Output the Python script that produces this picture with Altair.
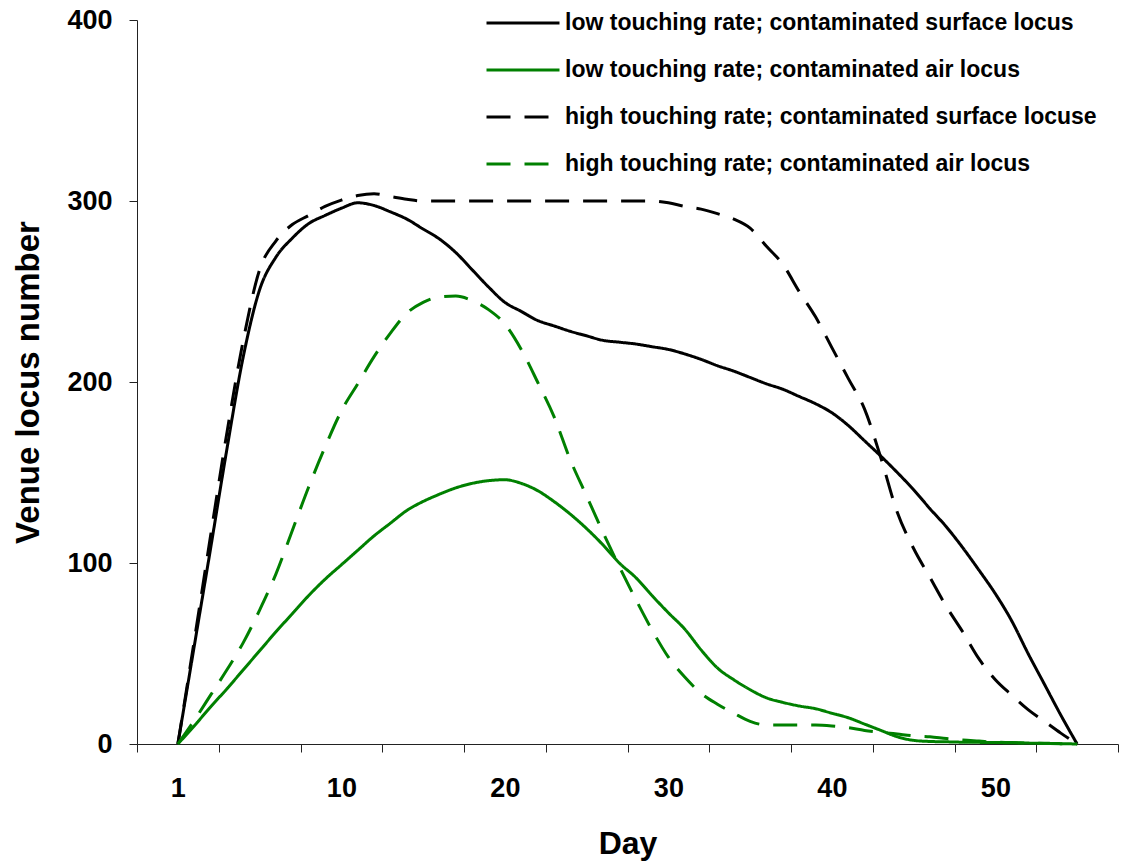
import altair as alt
import pandas as pd

# Sampling steps along the horizontal axis (0 is the first day, labelled "1")
DAY_INDEX = list(range(56))

LOW_SURFACE = [0, 54, 108, 163, 214, 251, 269, 279.5, 287.5, 292,
               296, 299, 297.5, 294, 290, 284.5, 279, 271.5, 262, 252.5,
               244, 239, 234, 231, 228, 225.5, 223, 222, 221, 219.5,
               218, 215.5, 212.5, 209, 206, 202.5, 199, 196, 192, 188,
               183, 176, 167.5, 159, 150, 140.5, 130, 120, 108.5, 96,
               83, 68, 50, 33, 16, 0]

LOW_AIR = [0, 10, 20.5, 30.5, 41, 51.5, 62, 72, 82, 91,
           99, 107, 115, 122, 129, 134, 138, 141.5, 144, 145.5,
           146, 144, 140, 134, 127, 119, 110, 100, 92, 82,
           72.5, 63.5, 52, 42, 35.5, 30, 25.5, 23, 21, 19.5,
           17, 14.5, 11, 7.5, 4, 2, 1.4, 1.2, 1, 0.9,
           0.8, 0.7, 0.5, 0.4, 0.2, 0]

HIGH_SURFACE = [0, 57, 115, 172, 223, 262, 278, 287, 292, 297,
                300.5, 303, 304, 302.5, 301, 300, 300, 300, 300, 300,
                300, 300, 300, 300, 300, 300, 300, 300, 300, 300,
                299, 297, 295.5, 293, 290, 285, 275, 265, 250, 236,
                219, 202, 185, 158, 128, 108, 92, 76, 62, 47,
                35.5, 27, 19, 12.5, 6, 0]

HIGH_AIR = [0, 13, 27, 41, 56, 74, 94, 118, 142, 164,
            184, 199, 214, 227, 238, 244, 247, 247.5, 245, 240,
            232, 218, 200, 181, 157, 137, 117, 98, 80, 63,
            48, 37, 28, 22, 17, 12.5, 10.5, 10.5, 10.5, 10.5,
            10, 9, 7.5, 6.5, 5.5, 4.5, 4, 3, 2.2, 1.6,
            1, 0.8, 0.5, 0.3, 0.1, 0]

SERIES = [
    "low touching rate; contaminated surface locus",
    "low touching rate; contaminated air locus",
    "high touching rate; contaminated surface locuse",
    "high touching rate; contaminated air locus",
]
COLORS = ["#000000", "#008000", "#000000", "#008000"]
DASHES = [[1, 0], [1, 0], [24, 14], [24, 14]]

Y_TICKS = [0, 100, 200, 300, 400]
X_LABELS = {0: "1", 10: "10", 20: "20", 30: "30", 40: "40", 50: "50"}
X_TICKS = [-2.5, 2.5, 7.5, 12.5, 17.5, 22.5, 27.5, 32.5, 37.5, 42.5, 47.5, 52.5, 57.5]

rows = []
for name, vals in zip(SERIES, [LOW_SURFACE, LOW_AIR, HIGH_SURFACE, HIGH_AIR]):
    for d, v in zip(DAY_INDEX, vals):
        rows.append({"day": d, "count": v, "series": name})
df = pd.DataFrame(rows)

axis_values = sorted(X_TICKS + list(X_LABELS))
label_expr = " : ".join(
    f"datum.value == {k} ? '{t}'" for k, t in X_LABELS.items()
) + " : ''"
tick_test = "indexof([" + ",".join(str(t) for t in X_TICKS) + "], datum.value) >= 0"

FONT = "Liberation Sans"

legend = alt.Legend(
    orient="none", legendX=348, legendY=-19, title=None,
    symbolType="stroke", symbolSize=5329, symbolStrokeWidth=3,
    clipHeight=44, rowPadding=3, padding=0,
    labelFont=FONT, labelFontSize=23, labelFontWeight="bold",
    labelColor="#000000", labelLimit=0, labelOffset=4,
)

chart = alt.Chart(df).mark_line(strokeWidth=3, interpolate="monotone").encode(
    x=alt.X(
        "day:Q",
        scale=alt.Scale(domain=[-2.5, 57.5], nice=False, zero=False),
        axis=alt.Axis(
            values=axis_values, labelExpr=label_expr,
            tickOpacity={"condition": {"test": tick_test, "value": 1}, "value": 0},
            tickSize=8, tickColor="#222222", domainColor="#222222",
            labelFont=FONT, labelFontSize=27, labelFontWeight="bold",
            labelColor="#000000", labelPadding=23, labelOverlap=False, labelFlush=False,
            grid=False, title="Day", titleFont=FONT, titleFontSize=32,
            titleFontWeight="bold", titleColor="#000000",
            titleBaseline="top", titleY=84,
        ),
    ),
    y=alt.Y(
        "count:Q",
        scale=alt.Scale(domain=[0, 400], nice=False),
        axis=alt.Axis(
            values=Y_TICKS, tickSize=8, tickColor="#222222", domainColor="#222222",
            labelFont=FONT, labelFontSize=27, labelFontWeight="bold",
            labelColor="#000000", labelPadding=17, grid=False,
            title="Venue locus number", titleFont=FONT, titleFontSize=33,
            titleFontWeight="bold", titleColor="#000000",
            titleBaseline="middle", titleX=-109,
        ),
    ),
    color=alt.Color("series:N", scale=alt.Scale(domain=SERIES, range=COLORS), legend=legend),
    strokeDash=alt.StrokeDash("series:N", scale=alt.Scale(domain=SERIES, range=DASHES), legend=legend),
).properties(
    width=981, height=724,
    autosize=alt.AutoSizeParams(type="none"),
    padding={"left": 137, "top": 20, "right": 13, "bottom": 121},
    background="white",
).configure_view(stroke=None)

chart.save("out.html", embed_options={"renderer": "svg", "actions": False})
